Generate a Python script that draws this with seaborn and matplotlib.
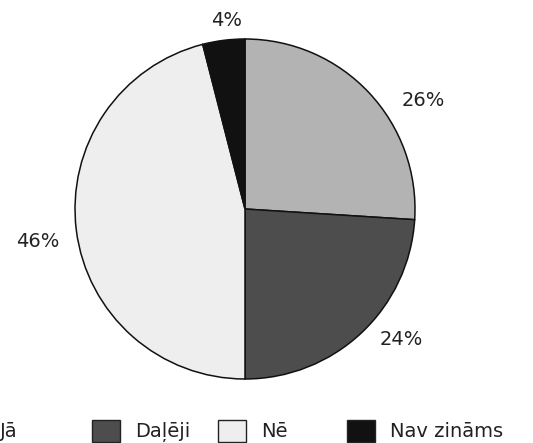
import matplotlib
matplotlib.use("Agg")
import matplotlib.pyplot as plt
import seaborn as sns
from matplotlib.patches import Patch

sns.set_theme(style="white")
plt.rcParams["font.family"] = ["DejaVu Sans"]

categories = ["Jā", "Daļēji", "Nē", "Nav zināms"]
shares = [26, 24, 46, 4]
colors = ["#b3b3b3", "#4d4d4d", "#eeeeee", "#111111"]
# label anchor points, in units of the pie radius
label_pos = [(1.05, 0.64), (0.92, -0.77), (-1.22, -0.19), (-0.11, 1.11)]
# left edge of each legend swatch, in pixels
legend_x = [-43, 92, 218, 347]

W, H = 533, 443
FS = 14
fs_px = FS * 100 / 72
fig = plt.figure(figsize=(W / 100, H / 100), dpi=100)
cx, cy, r = 245, 209, 170
ax = fig.add_axes([(cx - r) / W, 1 - (cy + r) / H, 2 * r / W, 2 * r / H])

wedges, _ = ax.pie(
    shares, colors=colors, startangle=90, counterclock=False, radius=1,
    wedgeprops=dict(edgecolor="#111111", linewidth=1.1),
)
ax.set_xlim(-1, 1)
ax.set_ylim(-1, 1)
ax.set_aspect("equal")
ax.axis("off")

for val, (x, y) in zip(shares, label_pos):
    ax.text(x, y, f"{val}%", ha="center", va="center", fontsize=FS,
            color="#222222", clip_on=False)

for lab, c, lx in zip(categories, colors, legend_x):
    h = Patch(facecolor=c, edgecolor="#222222", linewidth=1)
    fig.legend([h], [lab], loc="center left", bbox_to_anchor=(lx / W, 1 - 431 / H),
               frameon=False, fontsize=FS, borderpad=0, borderaxespad=0,
               handlelength=28 / fs_px, handleheight=28 / fs_px,
               handletextpad=15 / fs_px, labelcolor="#222222")

fig.savefig("out.png", dpi=100)
